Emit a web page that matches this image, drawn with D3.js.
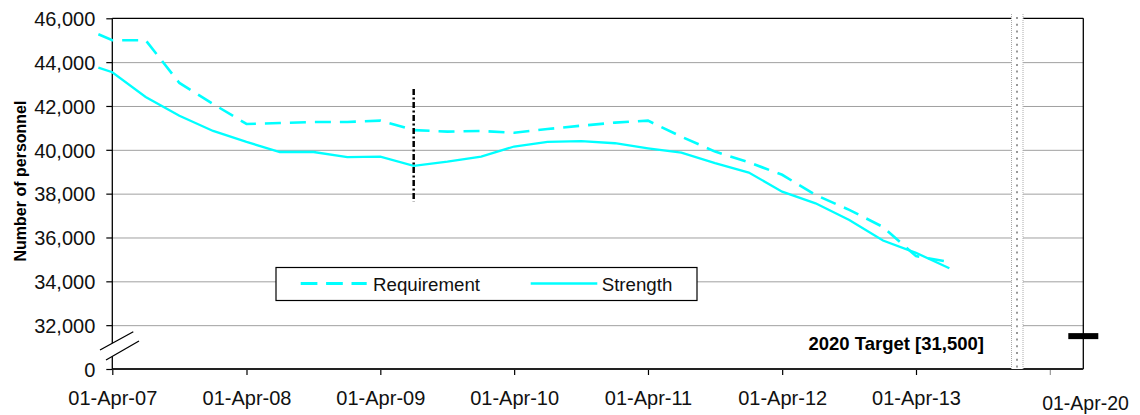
<!DOCTYPE html>
<html>
<head>
<meta charset="utf-8">
<script src="https://cdn.jsdelivr.net/npm/d3@7"></script>
<style>
  body { margin: 0; background: #fff; }
  svg { display: block; font-family: "Liberation Sans", Arial, sans-serif; }
  .tick text { font-size: 20px; fill: #111; }
</style>
</head>
<body>
<div id="chart"></div>
<script>
// Personnel requirement vs strength, quarterly
const dates = ["2007-02-22", "2007-04-01", "2007-07-01", "2007-10-01", "2008-01-01", "2008-04-01",
    "2008-07-01", "2008-10-01", "2009-01-01", "2009-04-01", "2009-07-01", "2009-10-01",
    "2010-01-01", "2010-04-01", "2010-07-01", "2010-10-01", "2011-01-01", "2011-04-01",
    "2011-07-01", "2011-10-01", "2012-01-01", "2012-04-01", "2012-07-01", "2012-10-01",
    "2013-01-01", "2013-04-01", "2013-07-01"];
const requirement = [45270, 45000, 45000, 43050, 42090, 41180, 41220, 41270, 41270, 41330,
    40900, 40830, 40860, 40780, 40950, 41100, 41240, 41330, 40600, 39920, 39430, 38860,
    37940, 37260, 36480, 35150, 34880];
const strength = [43750, 43540, 42410, 41550, 40860, 40360, 39900, 39900, 39670, 39690,
    39270, 39460, 39690, 40150, 40360, 40400, 40300, 40070, 39870, 39390, 38960, 38090,
    37560, 36800, 35860, 35300, 34600];

const xTickDates = ["2007-04-01", "2008-04-01", "2009-04-01", "2010-04-01", "2011-04-01",
    "2012-04-01", "2013-04-01", "2014-04-01"];
const xTickLabels = ["01-Apr-07", "01-Apr-08", "01-Apr-09", "01-Apr-10", "01-Apr-11",
    "01-Apr-12", "01-Apr-13", ""];
const yTicks = [30000, 32000, 34000, 36000, 38000, 40000, 42000, 44000, 46000];
const yTickLabels = ["0", "32,000", "34,000", "36,000", "38,000", "40,000", "42,000", "44,000", "46,000"];

const markerDate = "2009-07-01";      // vertical dash-dot marker
const markerRange = [37630, 42780];
const targetValue = 31500;
const targetLabel = "2020 Target [31,500]";
const targetDateLabel = "01-Apr-20";

const W = 1140, H = 415;
const plot = { left: 112.3, right: 1083.3, top: 18.3, bottom: 369 };
const parse = d3.timeParse("%Y-%m-%d");

const x = d3.scaleTime()
    .domain([parse("2007-04-01"), parse("2013-04-01")])
    .range([plot.left, 916]);
const y = d3.scaleLinear()
    .domain([30000, 46000])
    .range([plot.bottom, plot.top]);

const svg = d3.select("#chart").append("svg")
    .attr("width", W)
    .attr("height", H);

// gridlines
svg.append("g")
    .attr("transform", `translate(${plot.left},0)`)
    .call(d3.axisLeft(y).tickValues(yTicks.slice(1, -1)).tickSize(-(plot.right - plot.left)).tickFormat(""))
    .call(g => g.select(".domain").remove())
    .call(g => g.selectAll("line").attr("stroke", "#a0a0a0").attr("stroke-width", 1));

// y axis ticks + labels
svg.append("g")
    .attr("transform", `translate(${plot.left},0)`)
    .call(d3.axisLeft(y).tickValues(yTicks).tickSize(6).tickPadding(11)
        .tickFormat((d, i) => yTickLabels[i]))
    .call(g => g.select(".domain").remove())
    .call(g => g.selectAll("line").attr("stroke", "#000").attr("stroke-width", 1.2))
    .call(g => g.selectAll("text").attr("dy", "0.36em"));

// x axis ticks + labels
const xAxisG = svg.append("g")
    .attr("transform", `translate(0,${plot.bottom})`)
    .call(d3.axisBottom(x).tickValues(xTickDates.map(parse)).tickSize(6).tickPadding(16)
        .tickFormat((d, i) => xTickLabels[i]))
    .call(g => g.select(".domain").remove())
    .call(g => g.selectAll("line").attr("stroke", "#000").attr("stroke-width", 1.2))
    .call(g => g.selectAll("text").attr("dy", "0.71em"));
xAxisG.selectAll(".tick").filter((d, i) => i === xTickDates.length - 1)
    .select("line").attr("stroke", "#999");

// frame
const frame = svg.append("g").attr("stroke", "#000").attr("fill", "none");
frame.append("line").attr("x1", plot.left).attr("x2", plot.right)
    .attr("y1", plot.top).attr("y2", plot.top).attr("stroke-width", 1.3);
frame.append("line").attr("x1", plot.right).attr("x2", plot.right)
    .attr("y1", plot.top).attr("y2", plot.bottom).attr("stroke-width", 1.3);
frame.append("line").attr("x1", plot.left).attr("x2", plot.right)
    .attr("y1", plot.bottom).attr("y2", plot.bottom).attr("stroke-width", 2).attr("stroke", "#222");
frame.append("line").attr("x1", plot.left).attr("x2", plot.left)
    .attr("y1", plot.top).attr("y2", plot.bottom).attr("stroke-width", 1.3);

// axis break
svg.append("path")
    .attr("d", "M100,350L133.3,331.7L139,341L106,360Z")
    .attr("fill", "#fff");
svg.append("path")
    .attr("d", "M100,350L133.3,331.7M106,360L139,341")
    .attr("stroke", "#000").attr("stroke-width", 1.3).attr("fill", "none");

// time-gap band
const band = svg.append("g");
band.append("rect").attr("x", 1011.5).attr("y", 14).attr("width", 11.5).attr("height", plot.bottom - 14)
    .attr("fill", "#fff");
[1011.5, 1023].forEach(bx => {
    band.append("line").attr("x1", bx).attr("x2", bx).attr("y1", 14).attr("y2", plot.bottom)
        .attr("stroke", "#aaa").attr("stroke-width", 1).attr("stroke-dasharray", "1,1");
});
band.append("line").attr("x1", 1017).attr("x2", 1017).attr("y1", 17).attr("y2", plot.bottom)
    .attr("stroke", "#999").attr("stroke-width", 2).attr("stroke-dasharray", "2,4.7");

// series
const pts = (vals) => vals.map((v, i) => [x(parse(dates[i])), y(v)]);
const line = d3.line();
svg.append("path")
    .attr("d", line(pts(requirement)))
    .attr("fill", "none").attr("stroke", "#00ffff").attr("stroke-width", 2.6)
    .attr("stroke-dasharray", "16,9");
svg.append("path")
    .attr("d", line(pts(strength)))
    .attr("fill", "none").attr("stroke", "#00ffff").attr("stroke-width", 2.3);

// dash-dot marker
svg.append("line")
    .attr("x1", x(parse(markerDate))).attr("x2", x(parse(markerDate)))
    .attr("y1", y(markerRange[1])).attr("y2", y(markerRange[0]))
    .attr("stroke", "#000").attr("stroke-width", 2.5).attr("stroke-dasharray", "6,2.5,2,2.5");

// 2020 target
svg.append("rect")
    .attr("x", plot.right - 15).attr("y", y(targetValue) - 3)
    .attr("width", 30).attr("height", 6).attr("fill", "#000");
svg.append("text")
    .attr("x", 984).attr("y", 350)
    .attr("text-anchor", "end")
    .attr("font-size", 18.5).attr("font-weight", "bold")
    .text(targetLabel);
svg.append("text")
    .attr("x", 1085.5).attr("y", 409.5)
    .attr("text-anchor", "middle")
    .attr("font-size", 19.5).attr("fill", "#111")
    .text(targetDateLabel);

// y axis title
svg.append("text")
    .attr("transform", "translate(25.5,181) rotate(-90)")
    .attr("text-anchor", "middle")
    .attr("font-size", 16).attr("font-weight", "bold")
    .text("Number of personnel");

// legend
const lg = svg.append("g");
lg.append("rect").attr("x", 276).attr("y", 267.5).attr("width", 421).attr("height", 33)
    .attr("fill", "#fff").attr("stroke", "#000").attr("stroke-width", 1.2);
lg.append("line").attr("x1", 300.7).attr("x2", 366.7).attr("y1", 283.5).attr("y2", 283.5)
    .attr("stroke", "#00ffff").attr("stroke-width", 3).attr("stroke-dasharray", "16.7,8.7");
lg.append("text").attr("x", 373).attr("y", 290.5).attr("font-size", 18.7).attr("fill", "#111").text("Requirement");
lg.append("line").attr("x1", 530.7).attr("x2", 597.3).attr("y1", 283.5).attr("y2", 283.5)
    .attr("stroke", "#00ffff").attr("stroke-width", 2.3);
lg.append("text").attr("x", 601.7).attr("y", 290.5).attr("font-size", 18.7).attr("fill", "#111").text("Strength");
</script>
</body>
</html>
